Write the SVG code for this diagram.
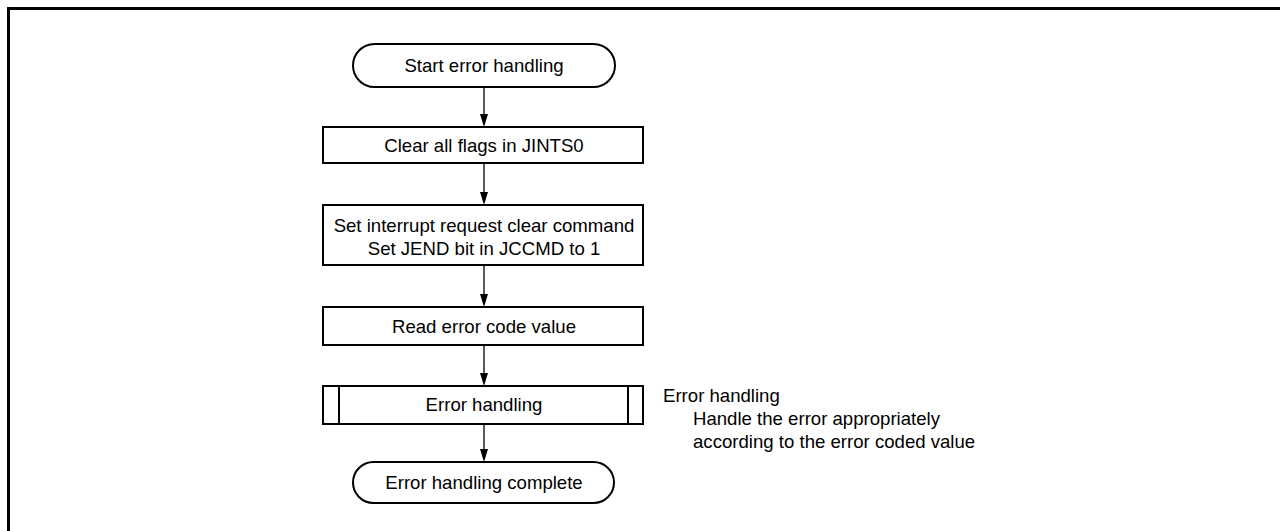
<svg xmlns="http://www.w3.org/2000/svg" width="1280" height="531" viewBox="0 0 1280 531">
<style>
.box{fill:#fff;stroke:#000;stroke-width:2}
.t{font-family:"Liberation Sans",Arial,sans-serif;font-size:18.6px;fill:#000}
.c{text-anchor:middle}
.ln{stroke:#000;stroke-width:1.3;fill:none}
</style>
<rect width="1280" height="531" fill="#fff"/>
<path d="M8.5 531 V8.5 H1280" fill="none" stroke="#000" stroke-width="3"/>
<g id="connectors">
<line class="ln" x1="484" y1="87" x2="484" y2="115"/>
<polygon points="480,114 488,114 484,127"/>
<line class="ln" x1="484" y1="163" x2="484" y2="193"/>
<polygon points="480,192 488,192 484,205"/>
<line class="ln" x1="484" y1="265" x2="484" y2="295"/>
<polygon points="480,294 488,294 484,307"/>
<line class="ln" x1="484" y1="345" x2="484" y2="374"/>
<polygon points="480,373 488,373 484,386"/>
<line class="ln" x1="484" y1="424" x2="484" y2="450"/>
<polygon points="480,449 488,449 484,462"/>
</g>
<g id="start">
<rect class="box" x="353" y="44" width="262" height="43" rx="21.5"/>
<text class="t c" x="484" y="72">Start error handling</text>
</g>
<g id="clear-flags">
<rect class="box" x="323" y="127" width="320" height="36"/>
<text class="t c" x="484" y="151.5">Clear all flags in JINTS0</text>
</g>
<g id="set-command">
<rect class="box" x="323" y="205" width="320" height="60"/>
<text class="t c" x="484" y="232">Set interrupt request clear command</text>
<text class="t c" x="484" y="254.5">Set JEND bit in JCCMD to 1</text>
</g>
<g id="read-error">
<rect class="box" x="323" y="307" width="320" height="38"/>
<text class="t c" x="484" y="333">Read error code value</text>
</g>
<g id="error-handling">
<rect class="box" x="323" y="386" width="320" height="38"/>
<line x1="339" y1="386" x2="339" y2="424" stroke="#000" stroke-width="2"/>
<line x1="628" y1="386" x2="628" y2="424" stroke="#000" stroke-width="2"/>
<text class="t c" x="484" y="411">Error handling</text>
</g>
<g id="end">
<rect class="box" x="353" y="462" width="261" height="41" rx="20.5"/>
<text class="t c" x="484" y="488.5">Error handling complete</text>
</g>
<g id="note">
<text class="t" x="663" y="402">Error handling</text>
<text class="t" x="693" y="425">Handle the error appropriately</text>
<text class="t" x="693" y="448">according to the error coded value</text>
</g>
</svg>
